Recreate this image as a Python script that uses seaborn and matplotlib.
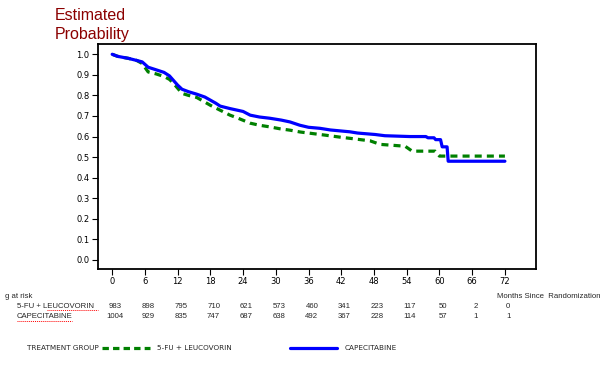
import matplotlib
matplotlib.use("Agg")
import matplotlib.pyplot as plt
import matplotlib.transforms as mtransforms
from matplotlib.lines import Line2D
import seaborn as sns
import pandas as pd

# ---- data ----
cape_t = [0, 1, 3, 4.5, 5.5, 6.6, 8, 9.5, 10.5, 11.2, 12, 12.8, 14, 15.5, 17, 18, 19, 19.8,
          21.6, 24, 25.3, 27, 28.9, 31, 32.6, 34.4, 36, 38.1, 40, 43.6, 45, 48.2, 50, 54.6,
          57.5, 57.9, 59.0, 59.3, 60.2, 60.5, 61.4, 61.6, 72]
cape_s = [1.0, 0.99, 0.98, 0.97, 0.963, 0.937, 0.925, 0.912, 0.895, 0.874, 0.85, 0.83, 0.818,
          0.806, 0.792, 0.777, 0.762, 0.748, 0.736, 0.722, 0.704, 0.695, 0.689, 0.68, 0.671,
          0.655, 0.645, 0.64, 0.632, 0.623, 0.617, 0.61, 0.604, 0.600, 0.600, 0.594, 0.594,
          0.585, 0.585, 0.55, 0.55, 0.48, 0.48]
fu_t = [0, 1, 3, 4.5, 5.5, 6.6, 8, 9.5, 10.5, 11.2, 12, 12.8, 14, 15.5, 16.5, 18, 19.8, 21.6,
        23, 25.3, 27, 28.9, 30.7, 32.6, 34.5, 36.3, 39, 41.8, 44, 47.3, 49.1, 53.7, 55.0,
        59.2, 60.0, 72]
fu_s = [1.0, 0.99, 0.98, 0.97, 0.955, 0.914, 0.905, 0.892, 0.878, 0.86, 0.835, 0.81, 0.80,
        0.79, 0.775, 0.752, 0.728, 0.704, 0.69, 0.665, 0.655, 0.647, 0.638, 0.631, 0.622, 0.616,
        0.607, 0.597, 0.59, 0.579, 0.562, 0.553, 0.529, 0.529, 0.505, 0.505]

risk_months = [0, 6, 12, 18, 24, 30, 36, 42, 48, 54, 60, 66, 72]
risk_fu = [983, 898, 795, 710, 621, 573, 460, 341, 223, 117, 50, 2, 0]
risk_cape = [1004, 929, 835, 747, 687, 638, 492, 367, 228, 114, 57, 1, 1]

x_ticks = [0, 6, 12, 18, 24, 30, 36, 42, 48, 54, 60, 66, 72]
y_ticks = [0.0, 0.1, 0.2, 0.3, 0.4, 0.5, 0.6, 0.7, 0.8, 0.9, 1.0]

lab_fu = "5-FU + LEUCOVORIN"
lab_cape = "CAPECITABINE"

df = pd.concat([
    pd.DataFrame({"month": fu_t, "surv": fu_s, "group": lab_fu}),
    pd.DataFrame({"month": cape_t, "surv": cape_s, "group": lab_cape}),
])

sns.set_style("ticks")
plt.rcParams["font.family"] = ["Liberation Sans", "DejaVu Sans"]

W, H = 610, 365
fig = plt.figure(figsize=(W / 100, H / 100), dpi=100)
ax = fig.add_axes([98 / W, 1 - 269 / H, (536 - 98) / W, (269 - 44) / H])

green = "#008000"
blue = "#0000FF"

sns.lineplot(data=df[df.group == lab_fu], x="month", y="surv", ax=ax, color=green,
             lw=2.3, estimator=None, sort=False, legend=False)
ax.lines[-1].set_linestyle((0, (2.2, 1.6)))
sns.lineplot(data=df[df.group == lab_cape], x="month", y="surv", ax=ax, color=blue,
             lw=2.3, estimator=None, sort=False, legend=False)

ax.set_xlim(-2.6, 77.7)
ax.set_ylim(-0.044, 1.05)
ax.set_xticks(x_ticks)
ax.set_xticklabels([str(v) for v in x_ticks], fontsize=6, family="DejaVu Sans")
ax.set_yticks(y_ticks)
ax.set_yticklabels([f"{v:.1f}" for v in y_ticks], fontsize=6, family="DejaVu Sans")
ax.set_xlabel("")
ax.set_ylabel("")
for s in ax.spines.values():
    s.set_visible(True)
    s.set_linewidth(1.3)
    s.set_color("black")
ax.tick_params(length=4, width=0.8, pad=2, colors="black")

fig.text(55 / W, 1 - 16 / H, "Estimated", fontsize=11.5, color="#8B0000", va="center", ha="left")
fig.text(55 / W, 1 - 35 / H, "Probability", fontsize=11.5, color="#8B0000", va="center", ha="left")

# at-risk table
trans = mtransforms.blended_transform_factory(ax.transData, fig.transFigure)
fs = 5.6
fig.text(5 / W, 1 - 297 / H, "g at risk", fontsize=fs, va="center")
fig.text(17 / W, 1 - 306 / H, lab_fu, fontsize=fs, va="center")
fig.text(17 / W, 1 - 317 / H, lab_cape, fontsize=fs, va="center")
fig.add_artist(Line2D([47 / W, 98 / W], [1 - 310 / H] * 2, color="red", lw=0.7, ls=(0, (1, 1))))
fig.add_artist(Line2D([17 / W, 72 / W], [1 - 321 / H] * 2, color="red", lw=0.7, ls=(0, (1, 1))))
for m, a, b in zip(risk_months, risk_fu, risk_cape):
    ax.text(m + 0.6, 1 - 306 / H, str(a), transform=trans, fontsize=fs, ha="center", va="center")
    ax.text(m + 0.6, 1 - 317 / H, str(b), transform=trans, fontsize=fs, ha="center", va="center")
fig.text(497 / W, 1 - 297 / H, "Months Since  Randomization", fontsize=fs, va="center")

# bottom legend
ly = 1 - 348 / H
lfs = 5.2
fig.text(27 / W, ly, "TREATMENT GROUP", fontsize=lfs, va="center", family="DejaVu Sans")
fig.add_artist(Line2D([102 / W, 150 / W], [ly, ly], color=green, lw=2.3, ls=(0, (2.0, 1.3))))
fig.text(157 / W, ly, lab_fu, fontsize=lfs, va="center", family="DejaVu Sans")
fig.add_artist(Line2D([290 / W, 337 / W], [ly, ly], color=blue, lw=2.3))
fig.text(345 / W, ly, lab_cape, fontsize=lfs, va="center", family="DejaVu Sans")

fig.savefig("out.png", dpi=100)
